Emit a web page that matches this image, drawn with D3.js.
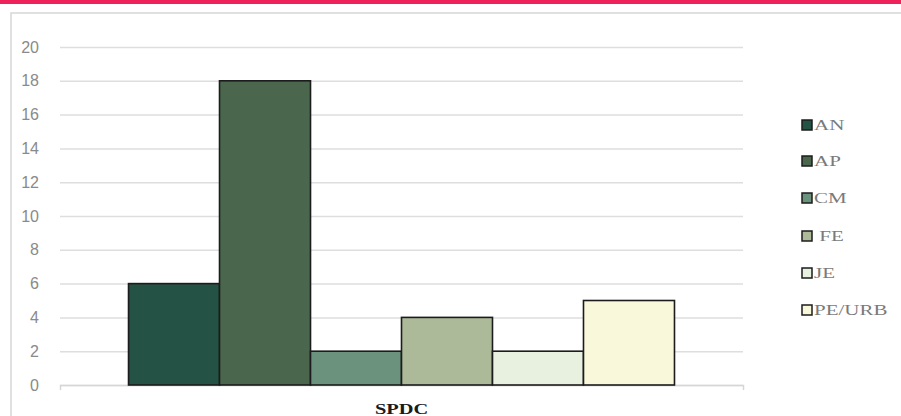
<!DOCTYPE html>
<html>
<head>
<meta charset="utf-8">
<script src="https://cdn.jsdelivr.net/npm/d3@7"></script>
<style>
  html, body { margin: 0; padding: 0; background: #fff; }
  svg { display: block; }
</style>
</head>
<body>
<svg id="chart" width="901" height="416"></svg>
<script>
const categories = ["SPDC"];
const series = ["AN", "AP", "CM", "FE", "JE", "PE/URB"];
const legendLabels = ["AN", "AP", "CM", " FE", "JE", "PE/URB"];
const values = [6, 18, 2, 4, 2, 5];
const colors = ["#245244", "#4a674e", "#6a927c", "#acba99", "#e8f0df", "#f9f8da"];
const yTicks = [0, 2, 4, 6, 8, 10, 12, 14, 16, 18, 20];

const svg = d3.select("#chart");

// top accent bar
svg.append("rect").attr("x", 0).attr("y", 0).attr("width", 901).attr("height", 4).attr("fill", "#ee215a");

// chart frame (cropped)
svg.append("path").attr("d", "M11,416V13H901").attr("fill", "none").attr("stroke", "#d6d6d6").attr("stroke-width", 1.5);

const plotLeft = 60, plotRight = 743, plotTop = 47, plotBottom = 385;

const y = d3.scaleLinear().domain([0, 20]).range([plotBottom, plotTop]);
const x0 = d3.scaleBand().domain(categories).range([plotLeft, plotRight]).paddingInner(0).paddingOuter(0.1255);
const x1 = d3.scaleBand().domain(series).range([0, x0.bandwidth()]).padding(0);

// y axis with gridlines
const yAxis = svg.append("g")
  .attr("transform", `translate(${plotLeft},0)`)
  .call(d3.axisLeft(y).tickValues(yTicks).tickSize(-(plotRight - plotLeft)).tickPadding(21));
yAxis.select(".domain").remove();
yAxis.selectAll(".tick line").attr("stroke", "#dedede").attr("stroke-width", 1.5);
yAxis.selectAll(".tick text")
  .attr("fill", "#8a8a8a")
  .style("font-family", "'Liberation Sans', Arial, sans-serif")
  .style("font-size", "16px");

// x axis
const xAxis = svg.append("g")
  .attr("transform", `translate(0,${plotBottom})`)
  .call(d3.axisBottom(x0).tickSizeInner(0).tickSizeOuter(5).tickFormat(""));
xAxis.select(".domain").attr("stroke", "#d6d6d6").attr("stroke-width", 1.5);

// bars
const group = svg.append("g").selectAll("g").data(categories).join("g")
  .attr("transform", d => `translate(${x0(d)},0)`);
group.selectAll("rect").data(series.map((s, i) => ({ s, v: values[i], c: colors[i] }))).join("rect")
  .attr("x", d => x1(d.s))
  .attr("y", d => y(d.v))
  .attr("width", x1.bandwidth())
  .attr("height", d => y(0) - y(d.v))
  .attr("fill", d => d.c)
  .attr("stroke", "#1c1c1c")
  .attr("stroke-width", 1.6);

// category label
categories.forEach(c => {
  const cx = x0(c) + x0.bandwidth() / 2;
  svg.append("text")
    .attr("transform", `translate(${cx},414) scale(1.36,1)`)
    .attr("text-anchor", "middle")
    .style("font-family", "'Liberation Serif', 'Times New Roman', serif")
    .style("font-weight", "bold")
    .style("font-size", "15px")
    .attr("fill", "#1a1a1a")
    .text(c);
});

// legend
const legendY = [125, 161, 198, 236, 273, 310];
const legend = svg.append("g");
series.forEach((s, i) => {
  const g = legend.append("g").attr("transform", `translate(802,${legendY[i]})`);
  g.append("rect").attr("x", 0).attr("y", -5).attr("width", 10).attr("height", 10)
    .attr("fill", colors[i]).attr("stroke", "#1c1c1c").attr("stroke-width", 1.5);
  g.append("text")
    .attr("transform", "translate(12,5) scale(1.4,1)")
    .attr("xml:space", "preserve")
    .style("white-space", "pre")
    .style("font-family", "'Liberation Serif', 'Times New Roman', serif")
    .style("font-size", "15px")
    .attr("fill", "#7a7a7a")
    .text(legendLabels[i]);
});
</script>
</body>
</html>
